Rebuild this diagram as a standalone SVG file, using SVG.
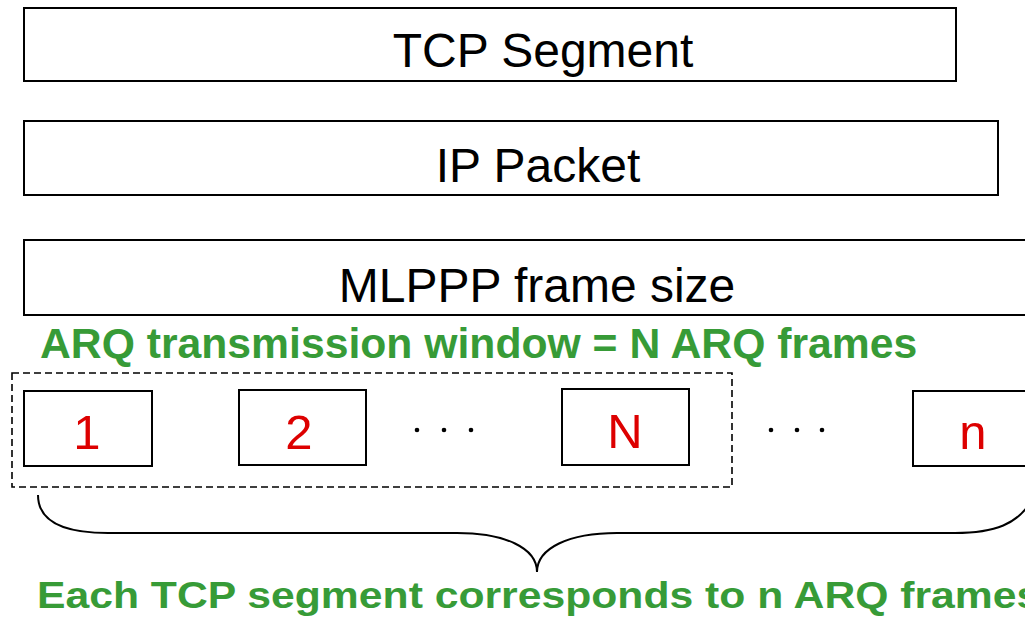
<svg xmlns="http://www.w3.org/2000/svg" width="1025" height="620" viewBox="0 0 1025 620">
  <style>
    .box { fill: #ffffff; stroke: #000000; stroke-width: 2; }
    .layer { font-family: "Liberation Sans", Arial, sans-serif; font-size: 48px; fill: #000000; text-anchor: middle; }
    .num { font-family: "Liberation Sans", Arial, sans-serif; font-size: 49px; fill: #dd0000; text-anchor: middle; }
    .note { font-family: "Liberation Sans", Arial, sans-serif; font-size: 42.7px; font-weight: bold; fill: #379b37; }
    .window { fill: none; stroke: #000000; stroke-width: 1.6; stroke-dasharray: 7 4; }
    .brace { fill: none; stroke: #000000; stroke-width: 2; }
    .dot { fill: #000000; }
  </style>
  <rect width="1025" height="620" fill="#ffffff"/>

  <!-- protocol layers -->
  <g id="tcp-segment">
    <rect class="box" x="24" y="8" width="932" height="73"/>
    <text class="layer" x="543" y="67">TCP Segment</text>
  </g>
  <g id="ip-packet">
    <rect class="box" x="24" y="121" width="974" height="74"/>
    <text class="layer" x="538" y="182">IP Packet</text>
  </g>
  <g id="mlppp-frame">
    <rect class="box" x="24" y="240" width="1010" height="75"/>
    <text class="layer" x="537" y="302">MLPPP frame size</text>
  </g>

  <!-- window caption -->
  <g id="window-label">
    <text class="note" x="40" y="358">ARQ transmission window = N ARQ frames</text>
  </g>

  <!-- transmission window -->
  <g id="arq-window">
    <rect class="window" x="12" y="373" width="720" height="114"/>
  </g>

  <!-- ARQ frames -->
  <g id="frame-1">
    <rect class="box" x="24" y="391" width="128" height="75"/>
    <text class="num" x="87" y="449">1</text>
  </g>
  <g id="frame-2">
    <rect class="box" x="239" y="390" width="127" height="75"/>
    <text class="num" x="299" y="449">2</text>
  </g>
  <g id="dots-1">
    <circle class="dot" cx="417" cy="430" r="2.3"/>
    <circle class="dot" cx="444" cy="430" r="2.3"/>
    <circle class="dot" cx="471" cy="430" r="2.3"/>
  </g>
  <g id="frame-N">
    <rect class="box" x="562" y="389" width="127" height="76"/>
    <text class="num" x="625" y="448">N</text>
  </g>
  <g id="dots-2">
    <circle class="dot" cx="771" cy="430" r="2.3"/>
    <circle class="dot" cx="797" cy="430" r="2.3"/>
    <circle class="dot" cx="822" cy="430" r="2.3"/>
  </g>
  <g id="frame-n">
    <rect class="box" x="913" y="391" width="130" height="75"/>
    <text class="num" x="973" y="449">n</text>
  </g>

  <!-- brace grouping all frames of one segment -->
  <g id="connectors">
    <path class="brace" d="M 38 495 C 38 518, 58 533, 108 533 L 457 533 C 505 533, 537 548, 537 572 C 537 548, 569 533, 617 533 L 955 533 C 995 533, 1018 524, 1032 500"/>
  </g>

  <g id="segment-label">
    <text class="note" x="37" y="608" font-size="43.5" transform="translate(0 608) scale(1 0.88) translate(0 -608)">Each TCP segment corresponds to n ARQ frames</text>
  </g>
</svg>
